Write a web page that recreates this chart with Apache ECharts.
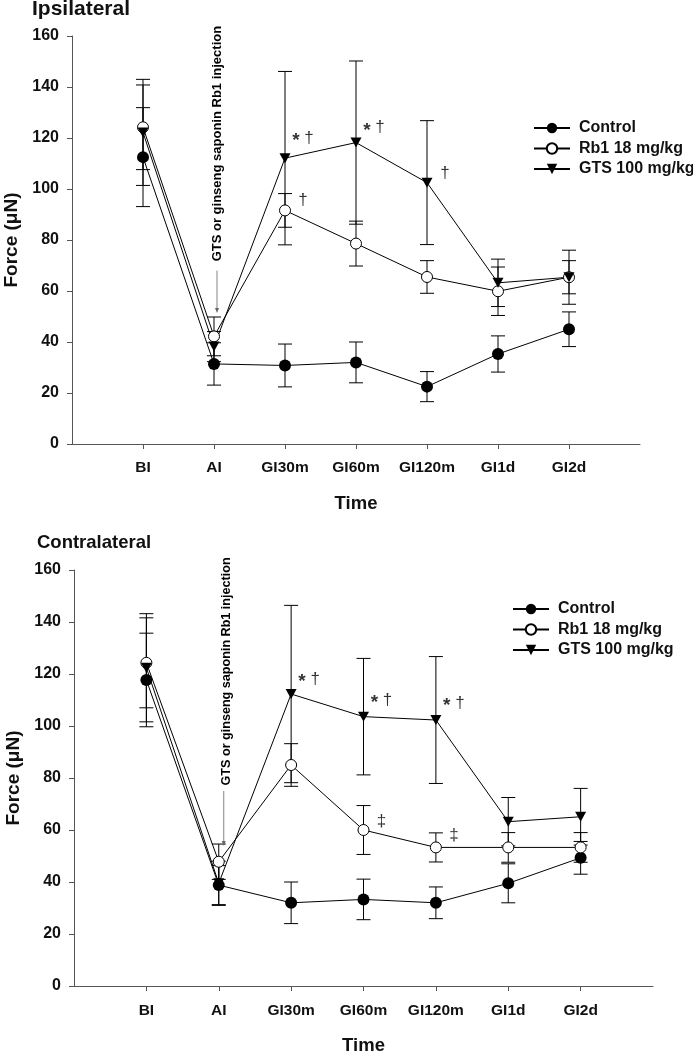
<!DOCTYPE html>
<html><head><meta charset="utf-8">
<script src="https://cdn.jsdelivr.net/npm/echarts@6/dist/echarts.min.js"></script>
<style>html,body{margin:0;padding:0;background:#fff}#c{width:693px;height:1052px}</style>
</head><body><div id="c"></div>
<script>
// ---------- data ----------
const categories = ['BI', 'AI', 'GI30m', 'GI60m', 'GI120m', 'GI1d', 'GI2d'];
const seriesNames = ['Control', 'Rb1 18 mg/kg', 'GTS 100 mg/kg'];
const yMin = 0, yMax = 160, yStep = 20;

const ipsiControl    = [112.5, 31.4, 30.8, 32.0, 22.5, 35.3, 45.0];
const ipsiControlErr = [19.4, 8.3, 8.4, 8.0, 5.9, 7.1, 6.8];
const ipsiRb1        = [124.2, 42.2, 91.6, 78.6, 65.5, 59.9, 65.4];
const ipsiRb1Err     = [16.6, 7.6, 6.6, 8.8, 6.4, 9.5, 6.5];
const ipsiGTS        = [122.2, 38.2, 112.1, 118.2, 102.5, 63.2, 65.4];
const ipsiGTSErr     = [20.8, 5.9, 34.0, 32.0, 24.3, 9.3, 10.6];

const contraControl    = [117.7, 38.8, 32.0, 33.3, 32.0, 39.5, 49.3];
const contraControlErr = [18.0, 7.5, 8.0, 7.8, 6.1, 7.5, 6.3];
const contraRb1        = [124.3, 47.8, 85.0, 60.0, 53.3, 53.3, 53.3];
const contraRb1Err     = [17.3, 6.8, 8.2, 9.4, 5.6, 5.7, 5.7];
const contraGTS        = [122.4, 39.5, 112.3, 103.6, 102.3, 63.2, 65.1];
const contraGTSErr     = [20.8, 8.5, 34.1, 22.4, 24.4, 9.3, 10.9];

// significance marks: [category, y value, text]
const ipsiMarks = [['GI30m', 120, '* †'], ['GI30m', 95.7, '†'], ['GI60m', 124, '* †'], ['GI120m', 106, '†']];
const contraMarks = [['GI30m', 118, '* †'], ['GI60m', 110, '* †'], ['GI120m', 108.8, '* †'], ['GI60m', 63.2, '‡'], ['GI120m', 58, '‡']];

// injection note: [category, text centre value, arrow start value, arrow end value]
const injectionText = 'GTS or ginseng saponin Rb1 injection';
const ipsiInjection = ['AI', 117.8, 68, 51.4];
const contraInjection = ['AI', 121, 75, 53.8];

const panelTitles = ['Ipsilateral', 'Contralateral'];
const xName = 'Time';
const yName = 'Force (μN)';

// ---------- chart ----------
const FONT = '"Liberation Sans", Arial, Helvetica, sans-serif';
const xCats = [''].concat(categories, [' ']);
const idx = c => categories.indexOf(c) + 1;
const pts = vals => vals.map((v, i) => [i + 1, v]);
const errData = (vals, errs) => vals.map((v, i) => [i + 1, v - errs[i], v + errs[i]]);
const inner = i => i >= 1 && i <= categories.length;

const grids = [
  { left: 72, top: 36, width: 568, height: 408, containLabel: false, outerBoundsMode: 'none' },
  { left: 74, top: 570, width: 579, height: 416, containLabel: false, outerBoundsMode: 'none' }
];

function xAxis(gi, margin, nameGap) {
  return {
    type: 'category', gridIndex: gi, data: xCats, boundaryGap: false,
    axisLine: { lineStyle: { color: '#555', width: 1 } },
    axisTick: { show: true, interval: inner, length: 5, lineStyle: { color: '#555' } },
    axisLabel: { interval: inner, margin: margin, fontFamily: FONT, fontSize: 15.5, fontWeight: 'bold', color: '#111' },
    splitLine: { show: false },
    name: xName, nameLocation: 'middle', nameGap: nameGap,
    nameTextStyle: { fontFamily: FONT, fontSize: 18.5, fontWeight: 'bold', color: '#111' }
  };
}
function yAxis(gi) {
  return {
    type: 'value', gridIndex: gi, min: yMin, max: yMax, interval: yStep,
    axisLine: { show: true, lineStyle: { color: '#555', width: 1 } },
    axisTick: { show: true, length: 5, lineStyle: { color: '#555' } },
    axisLabel: { margin: 13, fontFamily: FONT, fontSize: 16, fontWeight: 'bold', color: '#111' },
    splitLine: { show: false },
    name: yName, nameLocation: 'middle', nameGap: 51, nameRotate: 90,
    nameTextStyle: { fontFamily: FONT, fontSize: 19, fontWeight: 'bold', color: '#111' }
  };
}

const triPath = 'path://M0,0L10,0L5,9Z';
function lineSeries(gi, kind, vals) {
  const s = {
    type: 'line', name: seriesNames[kind], xAxisIndex: gi, yAxisIndex: gi, z: 3,
    data: pts(vals), lineStyle: { color: '#000', width: 1 }, symbolSize: 11,
    showSymbol: true, silent: true, emphasis: { disabled: true }
  };
  if (kind === 0) { s.symbol = 'circle'; s.symbolSize = 12; s.itemStyle = { color: '#000' }; }
  else if (kind === 1) { s.symbol = 'circle'; s.symbolSize = 11; s.itemStyle = { color: '#fff', borderColor: '#000', borderWidth: 1 }; }
  else { s.symbol = triPath; s.symbolSize = [11, 10]; s.itemStyle = { color: '#000' }; }
  return s;
}
function errSeries(gi, vals, errs) {
  return {
    type: 'custom', xAxisIndex: gi, yAxisIndex: gi, z: 1, silent: true,
    encode: { x: 0, y: [1, 2] },
    data: errData(vals, errs),
    renderItem(params, api) {
      const x = api.value(0);
      const lo = api.coord([x, api.value(1)]);
      const hi = api.coord([x, api.value(2)]);
      const w = 7, st = { stroke: '#000', lineWidth: 1 };
      return { type: 'group', children: [
        { type: 'line', shape: { x1: lo[0], y1: lo[1], x2: hi[0], y2: hi[1] }, style: st },
        { type: 'line', shape: { x1: lo[0] - w, y1: lo[1], x2: lo[0] + w, y2: lo[1] }, style: st },
        { type: 'line', shape: { x1: hi[0] - w, y1: hi[1], x2: hi[0] + w, y2: hi[1] }, style: st }
      ] };
    }
  };
}
function markSeries(gi, marks) {
  return {
    type: 'scatter', xAxisIndex: gi, yAxisIndex: gi, z: 5, silent: true,
    symbol: 'circle', symbolSize: 1, itemStyle: { color: 'rgba(0,0,0,0)' },
    data: marks.map(m => ({ value: [idx(m[0]), m[1]], name: m[2] })),
    label: {
      show: true, position: 'inside', offset: [18, 0],
      formatter: p => p.name.replace('*', '{a|*}'),
      fontFamily: FONT, fontSize: 17, color: '#000',
      rich: { a: { fontFamily: FONT, fontSize: 19, fontWeight: 'bold', color: '#000', padding: [5, 0, 0, 0] } }
    },
    emphasis: { disabled: true }
  };
}
function injSeries(gi, inj, dxText, dxLine, fs) {
  return {
    type: 'custom', xAxisIndex: gi, yAxisIndex: gi, z: 4, silent: true,
    encode: { x: 0, y: 1 },
    data: [[idx(inj[0]), inj[1], inj[2], inj[3]]],
    renderItem(params, api) {
      const x = api.value(0);
      const t = api.coord([x, api.value(1)]);
      const a = api.coord([x, api.value(2)]);
      const b = api.coord([x, api.value(3)]);
      const lx = b[0] + dxLine;
      return { type: 'group', children: [
        { type: 'text', x: t[0] + dxText, y: t[1], rotation: Math.PI / 2,
          style: { text: injectionText, font: 'bold ' + fs + 'px ' + FONT, fill: '#000', align: 'center', verticalAlign: 'middle' } },
        { type: 'line', shape: { x1: lx, y1: a[1], x2: lx, y2: b[1] - 3 }, style: { stroke: '#666', lineWidth: 0.8 } },
        { type: 'polygon', shape: { points: [[lx - 2, b[1] - 5], [lx + 2, b[1] - 5], [lx, b[1]]] }, style: { fill: '#666' } }
      ] };
    }
  };
}

const legendBase = {
  orient: 'vertical', data: seriesNames, itemWidth: 36, itemHeight: 13, itemGap: 4.5,
  selectedMode: false, padding: 0,
  textStyle: { fontFamily: FONT, fontSize: 16, fontWeight: 'bold', color: '#111', padding: [0, 0, 0, 4] }
};

const option = {
  animation: false,
  backgroundColor: '#fff',
  title: [
    { text: panelTitles[0], left: 32, top: -1, padding: 0, textStyle: { fontFamily: FONT, fontSize: 21, fontWeight: 'bold', color: '#111' } },
    { text: panelTitles[1], left: 37, top: 533, padding: 0, textStyle: { fontFamily: FONT, fontSize: 18.5, fontWeight: 'bold', color: '#111' } }
  ],
  legend: [
    Object.assign({}, legendBase, { left: 533, top: 120 }),
    Object.assign({}, legendBase, { left: 512, top: 601 })
  ],
  grid: grids,
  xAxis: [xAxis(0, 16, 50), xAxis(1, 17, 50)],
  yAxis: [yAxis(0), yAxis(1)],
  series: [
    errSeries(0, ipsiControl, ipsiControlErr),
    errSeries(0, ipsiRb1, ipsiRb1Err),
    errSeries(0, ipsiGTS, ipsiGTSErr),
    lineSeries(0, 0, ipsiControl),
    lineSeries(0, 1, ipsiRb1),
    lineSeries(0, 2, ipsiGTS),
    markSeries(0, ipsiMarks),
    injSeries(0, ipsiInjection, 3, 3, 13),
    errSeries(1, contraControl, contraControlErr),
    errSeries(1, contraRb1, contraRb1Err),
    errSeries(1, contraGTS, contraGTSErr),
    lineSeries(1, 0, contraControl),
    lineSeries(1, 1, contraRb1),
    lineSeries(1, 2, contraGTS),
    markSeries(1, contraMarks),
    injSeries(1, contraInjection, 8, 5, 12.6)
  ]
};
const chart = echarts.init(document.getElementById('c'));
chart.setOption(option);
</script></body></html>
